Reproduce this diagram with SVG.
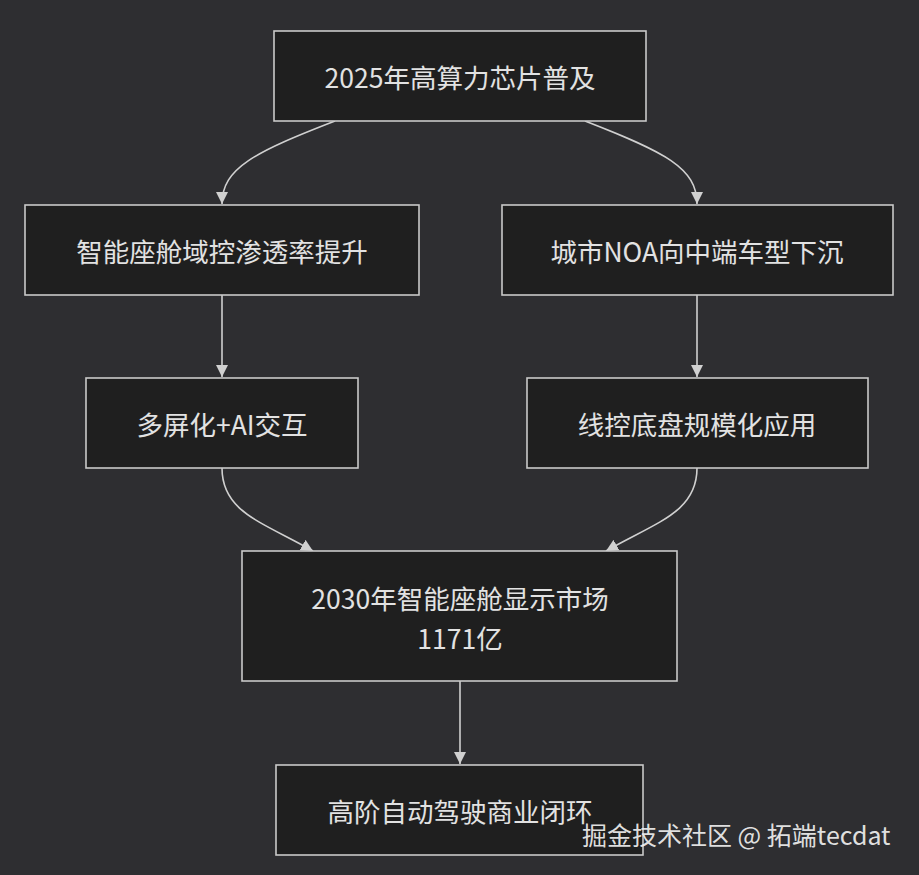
<svg xmlns="http://www.w3.org/2000/svg" width="919" height="875" viewBox="0 0 919 875">
<style>
.bg{fill:#2e2e31}
.node rect{fill:#1f1f1f;stroke:#c9c9c9;stroke-width:1.6}
.node text{fill:#e2e2e2;font-family:"Noto Sans CJK SC","Noto Sans",sans-serif;font-size:26.5px;text-anchor:middle;dominant-baseline:central}
.edge{fill:none;stroke:#d0d0d0;stroke-width:1.6}
.wm{fill:#f2f2f2;fill-opacity:0.92;font-family:"Noto Sans CJK SC","Noto Sans",sans-serif;font-size:25px}
</style>
<defs>
<marker id="arr" viewBox="0 0 12 12" refX="12" refY="6" markerWidth="12" markerHeight="12" markerUnits="userSpaceOnUse" orient="auto">
<path d="M0,0 L12,6 L0,12 z" fill="#d0d0d0"/>
</marker>
</defs>
<rect class="bg" x="0" y="0" width="919" height="875"/>
<g id="connectors">
<path class="edge" d="M335,121 C255,152 222,168 222,204" marker-end="url(#arr)"/>
<path class="edge" d="M585,121 C665,152 697,168 697,204" marker-end="url(#arr)"/>
<path class="edge" d="M222,295 L222,377" marker-end="url(#arr)"/>
<path class="edge" d="M697,295 L697,377" marker-end="url(#arr)"/>
<path class="edge" d="M222,468 C222,512 262,522 313,551" marker-end="url(#arr)"/>
<path class="edge" d="M697,468 C697,512 657,522 606,551" marker-end="url(#arr)"/>
<path class="edge" d="M460,681 L460,764" marker-end="url(#arr)"/>
</g>
<g id="nA" class="node"><rect x="274" y="31" width="372" height="90"/><text x="460" y="76">2025年高算力芯片普及</text></g>
<g id="nB" class="node"><rect x="25" y="205" width="394" height="90"/><text x="222" y="250">智能座舱域控渗透率提升</text></g>
<g id="nC" class="node"><rect x="502" y="205" width="391" height="90"/><text x="697" y="250">城市NOA向中端车型下沉</text></g>
<g id="nD" class="node"><rect x="86" y="378" width="272" height="90"/><text x="222" y="423">多屏化+AI交互</text></g>
<g id="nE" class="node"><rect x="527" y="378" width="341" height="90"/><text x="697" y="423">线控底盘规模化应用</text></g>
<g id="nF" class="node"><rect x="242" y="551" width="435" height="130"/><text x="460" y="597">2030年智能座舱显示市场</text><text x="460" y="637">1171亿</text></g>
<g id="nG" class="node"><rect x="276" y="765" width="367" height="90"/><text x="460" y="810">高阶自动驾驶商业闭环</text></g>
<text class="wm" x="582" y="845">掘金技术社区 @ 拓端tecdat</text>
</svg>
